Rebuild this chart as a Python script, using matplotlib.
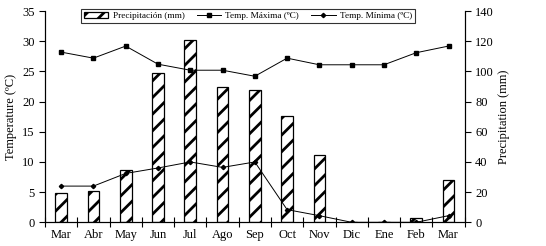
import matplotlib
matplotlib.use("Agg")
import matplotlib.pyplot as plt
import numpy as np

plt.rcParams['font.family'] = ['Liberation Serif', 'DejaVu Serif']
plt.rcParams['hatch.linewidth'] = 2.0

months = ["Mar", "Abr", "May", "Jun", "Jul", "Ago", "Sep", "Oct", "Nov", "Dic", "Ene", "Feb", "Mar"]
precip = [19.2, 20.5, 34.4, 98.7, 121.0, 89.4, 87.4, 70.2, 44.4, 0, 0, 3.0, 28.3]
t_max = [28.2, 27.2, 29.2, 26.2, 25.2, 25.2, 24.2, 27.2, 26.1, 26.1, 26.1, 28.1, 29.2]
t_min = [6.0, 6.0, 8.1, 9.0, 10.0, 9.1, 10.0, 2.1, 1.1, 0, 0, 0, 1.1]

x = np.arange(len(months))

fig, ax = plt.subplots(figsize=(5.46, 2.46), dpi=100)
fig.subplots_adjust(left=0.0824, right=0.851, bottom=0.0963, top=0.955)
ax2 = ax.twinx()

bars = ax2.bar(x, precip, width=0.36, color='white', edgecolor='black',
               hatch='//', linewidth=0.9, label='Precipitación (mm)')
l1, = ax.plot(x, t_max, color='black', lw=0.7, marker='s', markersize=3.5,
              label='Temp. Máxima (ºC)')
l2, = ax.plot(x, t_min, color='black', lw=0.7, marker='D', markersize=2.2,
              label='Temp. Mínima (ºC)')

# lines above the bars
ax.set_zorder(ax2.get_zorder() + 1)
ax.patch.set_visible(False)

ax.set_xlim(-0.5, len(months) - 0.5)
ax.set_ylim(0, 35)
ax2.set_ylim(0, 140)
ax.set_yticks(np.arange(0, 36, 5))
ax2.set_yticks(np.arange(0, 141, 20))

ax.set_xticks(np.arange(-0.5, len(months), 1))
ax.set_xticklabels([])
ax.set_xticks(x, minor=True)
ax.set_xticklabels(months, minor=True)
ax.tick_params(axis='x', which='major', direction='inout', length=7, width=0.8)
ax.tick_params(axis='x', which='minor', length=0, labelsize=9, pad=5)
ax.tick_params(axis='y', direction='out', length=4, width=0.8, labelsize=9)
ax2.tick_params(axis='y', direction='out', length=4, width=0.8, labelsize=9)

for a in (ax, ax2):
    a.spines['top'].set_visible(False)
    for s in ('left', 'right', 'bottom'):
        a.spines[s].set_linewidth(0.8)

ax.set_ylabel('Temperature (ºC)', fontsize=9, labelpad=4)
ax2.set_ylabel('Precipitation (mm)', fontsize=9, labelpad=3)

leg = ax.legend([bars, l1, l2], [bars.get_label(), l1.get_label(), l2.get_label()],
                ncol=3, fontsize=6.7, loc='upper left',
                bbox_to_anchor=(81 / 546, 1 - 9 / 246), bbox_transform=fig.transFigure,
                frameon=True, fancybox=False, edgecolor='black', borderpad=0.3,
                handlelength=2.6, handletextpad=0.5, columnspacing=1.3,
                borderaxespad=0)
leg.get_frame().set_linewidth(0.8)

fig.savefig('out.png', dpi=100)
